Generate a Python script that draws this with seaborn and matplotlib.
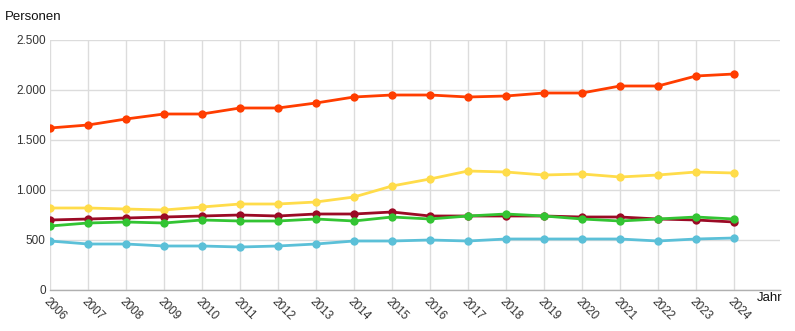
import matplotlib
matplotlib.use("Agg")
import matplotlib.pyplot as plt
import numpy as np
import pandas as pd
import seaborn as sns

years = list(range(2006, 2025))

series_a = [1620, 1650, 1710, 1760, 1760, 1820, 1820, 1870, 1930, 1950,
            1950, 1930, 1940, 1970, 1970, 2040, 2040, 2140, 2160]
series_b = [820, 820, 810, 800, 830, 860, 860, 880, 930, 1040,
            1110, 1190, 1180, 1150, 1160, 1130, 1150, 1180, 1170]
series_c = [700, 710, 720, 730, 740, 750, 740, 760, 760, 780,
            740, 740, 740, 740, 730, 730, 710, 700, 680]
series_d = [640, 670, 680, 670, 700, 690, 690, 710, 690, 730,
            710, 740, 760, 740, 710, 690, 710, 730, 710]
series_e = [490, 460, 460, 440, 440, 430, 440, 460, 490, 490,
            500, 490, 510, 510, 510, 510, 490, 510, 520]

series_names = ["A", "B", "C", "D", "E"]
series_values = [series_a, series_b, series_c, series_d, series_e]
colors = ["#ff3d00", "#ffdc4a", "#9b0a25", "#33c433", "#5bc0d8"]

y_ticks = [0, 500, 1000, 1500, 2000, 2500]
y_tick_labels = ["0", "500", "1.000", "1.500", "2.000", "2.500"]

df = pd.DataFrame({
    "Jahr": years * len(series_names),
    "Personen": [v for vals in series_values for v in vals],
    "Serie": [n for n in series_names for _ in years],
})

sns.set_theme(style="white")
plt.rcParams["font.family"] = ["Liberation Sans", "DejaVu Sans"]

fig = plt.figure(figsize=(7.95, 3.31), dpi=100)
ax = fig.add_axes([50 / 795, 1 - 290 / 331, 730 / 795, 250 / 331])

sns.lineplot(data=df, x="Jahr", y="Personen", hue="Serie",
             palette=dict(zip(series_names, colors)), marker="o",
             markersize=6, markeredgewidth=0, linewidth=2,
             legend=False, ax=ax, zorder=3)

ax.set_xlim(2006, 2024 + 46 / 38)
ax.set_ylim(0, 2500)
ax.set_xticks(years)
ax.set_xticklabels([str(y) for y in years], rotation=-45, ha="left",
                   va="top", rotation_mode="anchor", fontsize=8.5,
                   color="#333333")
ax.set_yticks(y_ticks)
ax.set_yticklabels(y_tick_labels, fontsize=8.5, color="#333333")
ax.tick_params(axis="both", length=0)
ax.tick_params(axis="y", pad=3)
ax.tick_params(axis="x", pad=4)

ax.grid(True, color="#dcdcdc", linewidth=1)
ax.set_axisbelow(True)
for side in ["top", "right", "left"]:
    ax.spines[side].set_visible(False)
ax.spines["bottom"].set_color("#b0b0b0")
ax.spines["bottom"].set_linewidth(1)

ax.set_xlabel("")
ax.set_ylabel("")
fig.text(5 / 795, 1 - 17 / 331, "Personen", fontsize=9.5, color="#111111",
         ha="left", va="center")
fig.text(757 / 795, 1 - 298 / 331, "Jahr", fontsize=9.5, color="#111111",
         ha="left", va="center")

fig.savefig("out.png", dpi=100)
